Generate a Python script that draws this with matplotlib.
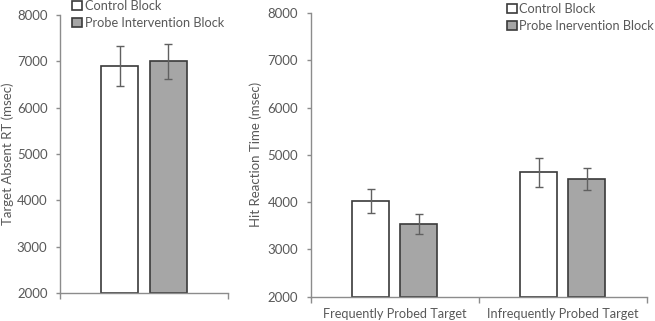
import matplotlib
matplotlib.use("Agg")
import matplotlib.pyplot as plt
from matplotlib.patches import Patch

plt.rcParams['font.family'] = ['Lato', 'DejaVu Sans']

# Data
series = ["Control Block", "Probe Intervention Block"]
series_right = ["Control Block", "Probe Inervention Block"]
left_vals = [6900, 7000]
left_err = [430, 380]
right_cats = ["Frequently Probed Target", "Infrequently Probed Target"]
right_control = [4030, 4630]
right_control_err = [250, 300]
right_probe = [3530, 4490]
right_probe_err = [210, 225]
yticks = [2000, 3000, 4000, 5000, 6000, 7000, 8000]

TXT = "#595959"
AX = "#8c8c8c"
EDGE = "#3a3a3a"
GRAY = "#a6a6a6"
ERR = "#606060"
FS_TICK = 9.5
FS_LAB = 9.5
FS_LEG = 9.2
FS_CAT = 9.2

fig = plt.figure(figsize=(6.55, 3.21), dpi=100)
axL = fig.add_axes([0.0916, 0.0872, 0.2565, 0.866])
axR = fig.add_axes([0.4743, 0.0757, 0.5134, 0.884])

def style(ax):
    for s in ["top", "right"]:
        ax.spines[s].set_visible(False)
    for s in ["left", "bottom"]:
        ax.spines[s].set_color(AX)
        ax.spines[s].set_linewidth(1.0)
    ax.set_ylim(2000, 8000)
    ax.set_yticks(yticks)
    ax.tick_params(axis='y', colors=AX, labelcolor=TXT, labelsize=FS_TICK, length=3, width=1,
                   direction='out', pad=6)
    ax.tick_params(axis='x', colors=AX, labelcolor=TXT, labelsize=FS_TICK, length=4, width=1,
                   direction='out')

w = 0.22
off = 0.143
fills = ["white", GRAY]
# Left panel
style(axL)
axL.set_xlim(-0.5, 0.5)
for i, (v, e) in enumerate(zip(left_vals, left_err)):
    axL.bar([0 + (i * 2 - 1) * off], [v - 2000], bottom=2000, width=w, color=fills[i],
            edgecolor=EDGE, linewidth=1.2, zorder=2)
    axL.errorbar([0 + (i * 2 - 1) * off], [v], yerr=[e], fmt='none', ecolor=ERR,
                 elinewidth=1, capsize=3, capthick=1, zorder=3)
axL.set_xticks([-0.5, 0.5])
axL.set_xticklabels(["", ""])
axL.set_ylabel("Target Absent RT (msec)", color=TXT, fontsize=FS_LAB)
axL.yaxis.set_label_coords(-0.275, 0.5)
handles = [Patch(facecolor=fills[i], edgecolor=EDGE, linewidth=1.2) for i in range(2)]
axL.legend(handles, series, loc='upper left', bbox_to_anchor=(0.11, 1.0),
           bbox_transform=fig.transFigure, frameon=False, fontsize=FS_LEG,
           handlelength=0.75, handleheight=0.75, handletextpad=0.25, labelspacing=0.4,
           borderpad=0, borderaxespad=0, labelcolor=TXT)

# Right panel
style(axR)
axR.set_xlim(-0.5, 1.5)
xs = list(range(len(right_cats)))
axR.bar([x - off for x in xs], [v - 2000 for v in right_control], bottom=2000, width=w,
        color="white", edgecolor=EDGE, linewidth=1.2, zorder=2)
axR.bar([x + off for x in xs], [v - 2000 for v in right_probe], bottom=2000, width=w,
        color=GRAY, edgecolor=EDGE, linewidth=1.2, zorder=2)
axR.errorbar([x - off for x in xs], right_control, yerr=right_control_err, fmt='none',
             ecolor=ERR, elinewidth=1, capsize=3, capthick=1, zorder=3)
axR.errorbar([x + off for x in xs], right_probe, yerr=right_probe_err, fmt='none',
             ecolor=ERR, elinewidth=1, capsize=3, capthick=1, zorder=3)
axR.set_xticks([-0.5, 0.5, 1.5])
axR.set_xticklabels(["", "", ""])
axR.set_xticks(xs, minor=True)
axR.set_xticklabels(right_cats, minor=True)
axR.tick_params(axis='x', which='minor', length=0, labelcolor=TXT, labelsize=FS_CAT, pad=8)
axR.set_ylabel("Hit Reaction Time (msec)", color=TXT, fontsize=FS_LAB, labelpad=4)
handlesR = [Patch(facecolor=fills[i], edgecolor=EDGE, linewidth=1.2) for i in range(2)]
axR.legend(handlesR, series_right, loc='upper left', bbox_to_anchor=(0.774, 0.99),
           bbox_transform=fig.transFigure, frameon=False, fontsize=FS_LEG,
           handlelength=0.75, handleheight=0.75, handletextpad=0.2, labelspacing=0.35,
           borderpad=0, borderaxespad=0, labelcolor=TXT)

fig.savefig("out.png", dpi=100)
